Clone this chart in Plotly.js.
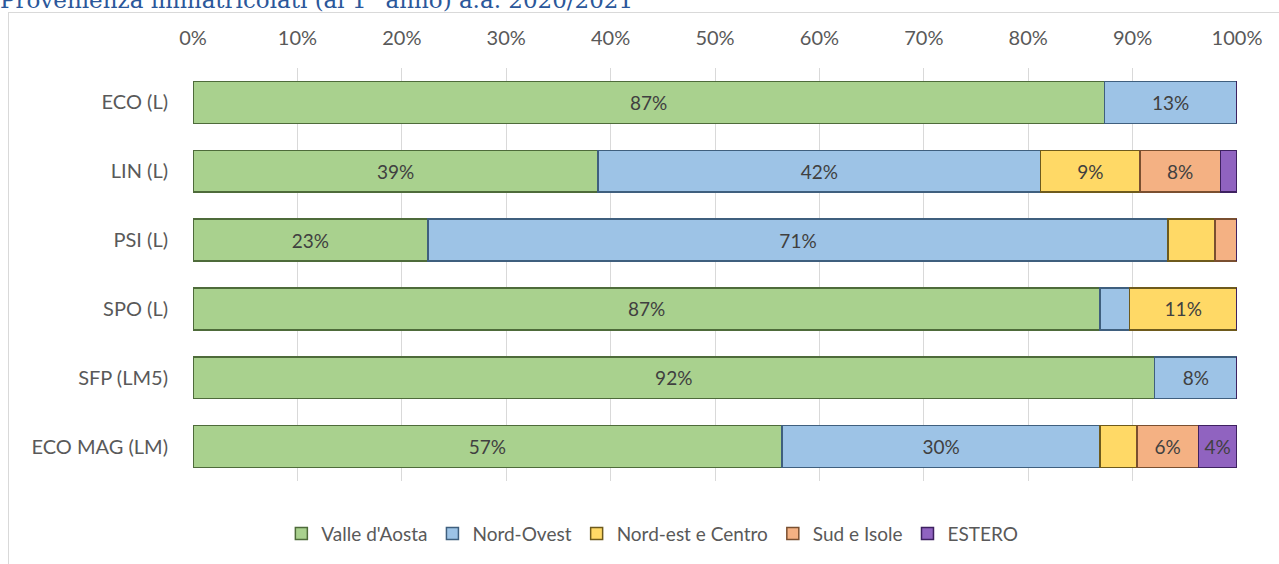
<!DOCTYPE html>
<html>
<head>
<meta charset="utf-8">
<script src="https://cdn.plot.ly/plotly-3.0.1.min.js"></script>
<style>
html,body{margin:0;padding:0;background:#fff;overflow:hidden;}
#chart{width:1279px;height:564px;position:absolute;left:0;top:0;}
#frame{position:absolute;left:8px;top:12px;width:1400px;height:700px;border:1px solid #d9d9d9;pointer-events:none;}
</style>
</head>
<body>
<div id="chart"></div>
<div id="frame"></div>
<script>
const categories = ["ECO (L)", "LIN (L)", "PSI (L)", "SPO (L)", "SFP (LM5)", "ECO MAG (LM)"];
const seriesNames = ["Valle d'Aosta", "Nord-Ovest", "Nord-est e Centro", "Sud e Isole", "ESTERO"];

const valleAosta = [87.3, 38.8, 22.5, 86.9, 92.1, 56.4];
const nordOvest  = [12.7, 42.4, 70.9, 2.8, 7.9, 30.5];
const nordEst    = [0, 9.5, 4.5, 10.3, 0, 3.5];
const sudIsole   = [0, 7.7, 2.1, 0, 0, 5.9];
const estero     = [0, 1.6, 0, 0, 0, 3.7];

const labValle   = ["87%", "39%", "23%", "87%", "92%", "57%"];
const labNordOv  = ["13%", "42%", "71%", "", "8%", "30%"];
const labNordEst = ["", "9%", "", "11%", "", ""];
const labSud     = ["", "8%", "", "", "", "6%"];
const labEstero  = ["", "", "", "", "", "4%"];

const tickVals = [0,10,20,30,40,50,60,70,80,90,100];
const tickText = ["0%","10%","20%","30%","40%","50%","60%","70%","80%","90%","100%"];

const fills = ["#a9d18e", "#9dc3e6", "#ffd966", "#f4b183", "#9063c0"];
const edges = ["#4e6b3a", "#3f5f7e", "#6e5a1c", "#7a4f30", "#3e2160"];

const values = [valleAosta, nordOvest, nordEst, sudIsole, estero];
const labels = [labValle, labNordOv, labNordEst, labSud, labEstero];

const FONT = 'Lato, "Open Sans", sans-serif';

const data = seriesNames.map((name, i) => ({
  type: 'bar',
  orientation: 'h',
  name: name,
  y: categories,
  x: values[i],
  text: labels[i],
  textposition: 'inside',
  insidetextanchor: 'middle',
  textangle: 0,
  constraintext: 'none',
  textfont: {family: FONT, size: 19, color: '#404040'},
  marker: {color: fills[i], line: {color: edges[i], width: 1.5}},
  hoverinfo: 'skip'
}));

const layout = {
  width: 1279,
  height: 564,
  paper_bgcolor: 'rgba(0,0,0,0)',
  plot_bgcolor: 'rgba(0,0,0,0)',
  margin: {l: 193, r: 42, t: 68, b: 82, pad: 0},
  barmode: 'stack',
  bargap: 0.39,
  showlegend: true,
  title: {
    text: 'Provenienza immatricolati (al 1° anno) a.a. 2020/2021',
    font: {family: '"DejaVu Serif", "Liberation Serif", serif', size: 23, color: '#2b579a'},
    x: 0, xanchor: 'left', xref: 'container',
    y: 0.985, yanchor: 'bottom', yref: 'container'
  },
  xaxis: {
    side: 'top',
    range: [0, 100],
    tickvals: tickVals,
    ticktext: tickText,
    showgrid: true,
    gridcolor: '#d9d9d9',
    gridwidth: 1,
    zeroline: false,
    showline: false,
    ticks: '',
    ticklabelstandoff: 18,
    tickfont: {family: FONT, size: 20, color: '#595959'},
    fixedrange: true
  },
  yaxis: {
    autorange: 'reversed',
    type: 'category',
    showgrid: false,
    zeroline: false,
    showline: false,
    ticks: '',
    ticklabelstandoff: 24,
    tickfont: {family: FONT, size: 20, color: '#595959'},
    fixedrange: true
  },
  legend: {
    orientation: 'h',
    traceorder: 'normal',
    x: 0.44, xanchor: 'center',
    y: -0.125, yanchor: 'middle',
    font: {family: FONT, size: 19, color: '#595959'},
    itemwidth: 30,
    bgcolor: 'rgba(0,0,0,0)'
  }
};

Plotly.newPlot('chart', data, layout, {displayModeBar: false, staticPlot: true});
</script>
</body>
</html>
